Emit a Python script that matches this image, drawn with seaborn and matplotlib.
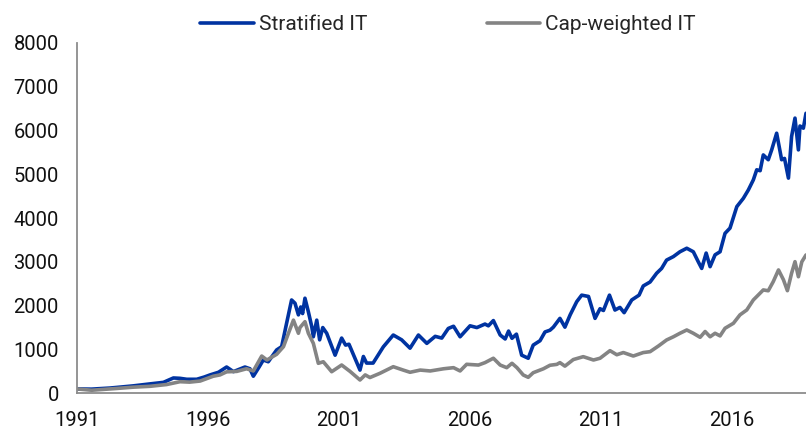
import pandas as pd
import matplotlib
matplotlib.use("Agg")
import matplotlib.pyplot as plt
import seaborn as sns

# values (decimal years)
strat_years = [
    1991.00, 1991.55, 1992.26, 1992.80, 1993.15, 1993.79, 1994.30, 1994.68, 1994.93, 1995.19,
    1995.57, 1995.85, 1996.08, 1996.40, 1996.71, 1996.97, 1997.41, 1997.60, 1997.73, 1997.95,
    1998.11, 1998.30, 1998.62, 1998.81, 1999.00, 1999.19, 1999.32, 1999.45, 1999.54, 1999.61,
    1999.70, 1999.83, 1999.96, 2000.02, 2000.15, 2000.26, 2000.38, 2000.53, 2000.85, 2001.10,
    2001.25, 2001.38, 2001.80, 2001.93, 2002.05, 2002.30, 2002.69, 2003.07, 2003.39, 2003.71,
    2004.03, 2004.35, 2004.67, 2004.92, 2005.17, 2005.37, 2005.62, 2006.00, 2006.26, 2006.57,
    2006.70, 2006.89, 2007.15, 2007.34, 2007.47, 2007.60, 2007.77, 2007.97, 2008.22, 2008.41,
    2008.67, 2008.86, 2009.05, 2009.18, 2009.43, 2009.62, 2009.82, 2010.07, 2010.26, 2010.52,
    2010.77, 2010.96, 2011.09, 2011.32, 2011.53, 2011.72, 2011.88, 2012.17, 2012.45, 2012.61,
    2012.87, 2013.12, 2013.31, 2013.50, 2013.76, 2014.01, 2014.27, 2014.52, 2014.71, 2014.84,
    2015.01, 2015.16, 2015.35, 2015.54, 2015.73, 2015.92, 2016.18, 2016.43, 2016.62, 2016.81,
    2016.94, 2017.07, 2017.19, 2017.38, 2017.51, 2017.70, 2017.89, 2018.00, 2018.15, 2018.27,
    2018.40, 2018.53, 2018.59, 2018.72, 2018.82,
]
strat_values = [
    100, 95, 120, 150, 170, 215, 250, 350, 342, 320,
    320, 370, 420, 480, 600, 495, 600, 560, 390, 600,
    760, 720, 990, 1064, 1600, 2130, 2055, 1790, 1970, 1820,
    2170, 1860, 1520, 1290, 1670, 1220, 1500, 1370, 870, 1260,
    1100, 1120, 530, 840, 690, 690, 1060, 1330, 1220, 1030,
    1330, 1140, 1300, 1260, 1480, 1530, 1290, 1540, 1500, 1580,
    1540, 1660, 1330, 1240, 1420, 1255, 1350, 870, 800, 1100,
    1200, 1400, 1440, 1510, 1710, 1510, 1790, 2090, 2240, 2210,
    1710, 1930, 1890, 2240, 1900, 1960, 1840, 2130, 2240, 2450,
    2540, 2740, 2850, 3040, 3120, 3230, 3310, 3230, 3000, 2850,
    3200, 2890, 3160, 3230, 3650, 3770, 4260, 4450, 4640, 4870,
    5100, 5080, 5440, 5330, 5555, 5935, 5330, 5360, 4910, 5860,
    6280, 5555, 6100, 6050, 6390,
]

cap_years = [
    1991.00, 1991.56, 1992.50, 1993.15, 1993.79, 1994.42, 1994.93, 1995.30, 1995.70, 1996.20,
    1996.46, 1996.71, 1997.10, 1997.47, 1997.73, 1998.05, 1998.25, 1998.62, 1998.88, 1999.07,
    1999.26, 1999.45, 1999.51, 1999.70, 1999.83, 2000.02, 2000.21, 2000.40, 2000.72, 2001.10,
    2001.42, 2001.80, 2002.00, 2002.18, 2002.56, 2003.07, 2003.45, 2003.71, 2004.10, 2004.48,
    2004.99, 2005.37, 2005.62, 2005.87, 2006.32, 2006.57, 2006.89, 2007.15, 2007.40, 2007.60,
    2007.79, 2008.03, 2008.22, 2008.41, 2008.80, 2009.05, 2009.31, 2009.43, 2009.62, 2009.94,
    2010.32, 2010.71, 2010.96, 2011.34, 2011.60, 2011.85, 2012.23, 2012.61, 2012.87, 2013.19,
    2013.50, 2013.76, 2014.01, 2014.27, 2014.52, 2014.78, 2014.97, 2015.16, 2015.35, 2015.54,
    2015.73, 2016.05, 2016.30, 2016.56, 2016.81, 2017.00, 2017.19, 2017.38, 2017.57, 2017.77,
    2017.96, 2018.11, 2018.27, 2018.40, 2018.53, 2018.66, 2018.82,
]
cap_values = [
    100, 70, 110, 140, 160, 200, 265, 255, 280, 390,
    420, 490, 500, 560, 510, 850, 760, 890, 1064, 1370,
    1670, 1370, 1500, 1635, 1370, 1140, 685, 720, 493, 646,
    500, 304, 420, 360, 456, 607, 530, 480, 530, 510,
    560, 585, 510, 662, 645, 700, 800, 645, 585, 685,
    585, 418, 365, 470, 560, 640, 660, 700, 620, 770,
    836, 760, 800, 973, 880, 930, 851, 930, 950, 1080,
    1217, 1290, 1370, 1445, 1370, 1278, 1410, 1290, 1370, 1310,
    1484, 1598, 1790, 1902, 2130, 2244, 2359, 2340, 2548, 2815,
    2590, 2342, 2740, 3004, 2660, 3000, 3157,
]

series_names = ["Stratified IT", "Cap-weighted IT"]
series_colors = ["#0033a1", "#848484"]
x_ticks = [1991, 1996, 2001, 2006, 2011, 2016]
y_ticks = [0, 1000, 2000, 3000, 4000, 5000, 6000, 7000, 8000]

df = pd.concat([
    pd.DataFrame({"year": strat_years, "value": strat_values, "series": series_names[0]}),
    pd.DataFrame({"year": cap_years, "value": cap_values, "series": series_names[1]}),
])

sns.set_style("white")
plt.rcParams["font.family"] = ["Roboto", "DejaVu Sans"]

fig = plt.figure(figsize=(8.06, 4.29), dpi=100)
ax = fig.add_axes([0.0955, 0.0832, 0.9045, 0.8172])

sns.lineplot(data=df, x="year", y="value", hue="series", hue_order=series_names,
             palette=series_colors, linewidth=2.6, ax=ax, sort=True, estimator=None)

ax.set_xlim(1991, 2018.82)
ax.set_ylim(0, 8000)
ax.set_xticks(x_ticks)
ax.set_xticklabels([str(t) for t in x_ticks])
ax.set_yticks(y_ticks)
ax.set_xlabel("")
ax.set_ylabel("")

for side in ["top", "right"]:
    ax.spines[side].set_visible(False)
for side in ["left", "bottom"]:
    ax.spines[side].set_color("#8c8c8c")
    ax.spines[side].set_linewidth(1.3)
ax.tick_params(axis="both", direction="out", length=5, width=1.3, color="#8c8c8c",
               labelsize=14.5, labelcolor="#111111")
ax.tick_params(axis="y", pad=8)
ax.tick_params(axis="x", pad=8)

handles, labels = ax.get_legend_handles_labels()
ax.legend_.remove()
fig.legend(handles, labels, loc="upper left", bbox_to_anchor=(0.2254, 1.008), ncol=2,
           frameon=False, fontsize=15, handlelength=2.55, handletextpad=0.25,
           columnspacing=5.75)

fig.savefig("out.png", dpi=100)
